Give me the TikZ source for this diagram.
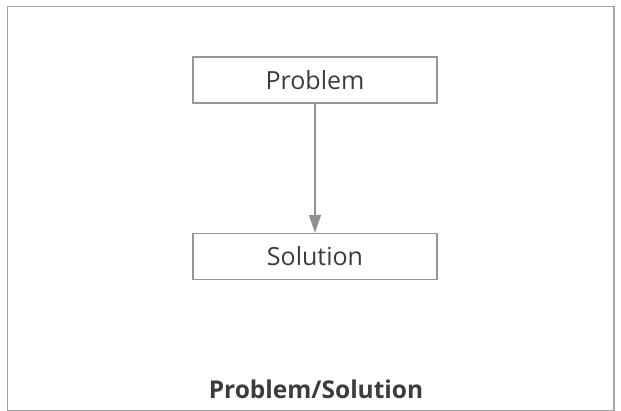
\documentclass[tikz,border=0pt]{standalone}
\usepackage{fontspec}
\setmainfont{Open Sans}
\usetikzlibrary{arrows.meta}
\definecolor{framec}{RGB}{165,165,165}
\definecolor{boxc}{RGB}{150,150,150}
\definecolor{txtc}{RGB}{60,60,60}
\definecolor{arrc}{RGB}{145,145,145}
\begin{document}
\begin{tikzpicture}[x=1pt,y=-1pt,
  stepbox/.style={draw=boxc,line width=1.3pt,minimum width=244pt,minimum height=46pt,inner sep=0pt,text=txtc,font=\fontsize{25}{29}\selectfont},
  conn/.style={draw=arrc,line width=1.5pt,-{Triangle[length=18pt,width=12pt]}}]
\useasboundingbox (0,0) rectangle (621,411);
\draw[framec,line width=1.3pt] (7.5,6.5) rectangle (614,410.5);
\node[stepbox] (p) at (315,80) {Problem};
\node[stepbox] (s) at (315,256.5) {Solution};
\draw[conn] (p.south) -- (s.north);
\node[text=txtc,font=\bfseries\fontsize{24.5}{28}\selectfont] (t) at (316,389) {Problem/Solution};
\end{tikzpicture}
\end{document}
